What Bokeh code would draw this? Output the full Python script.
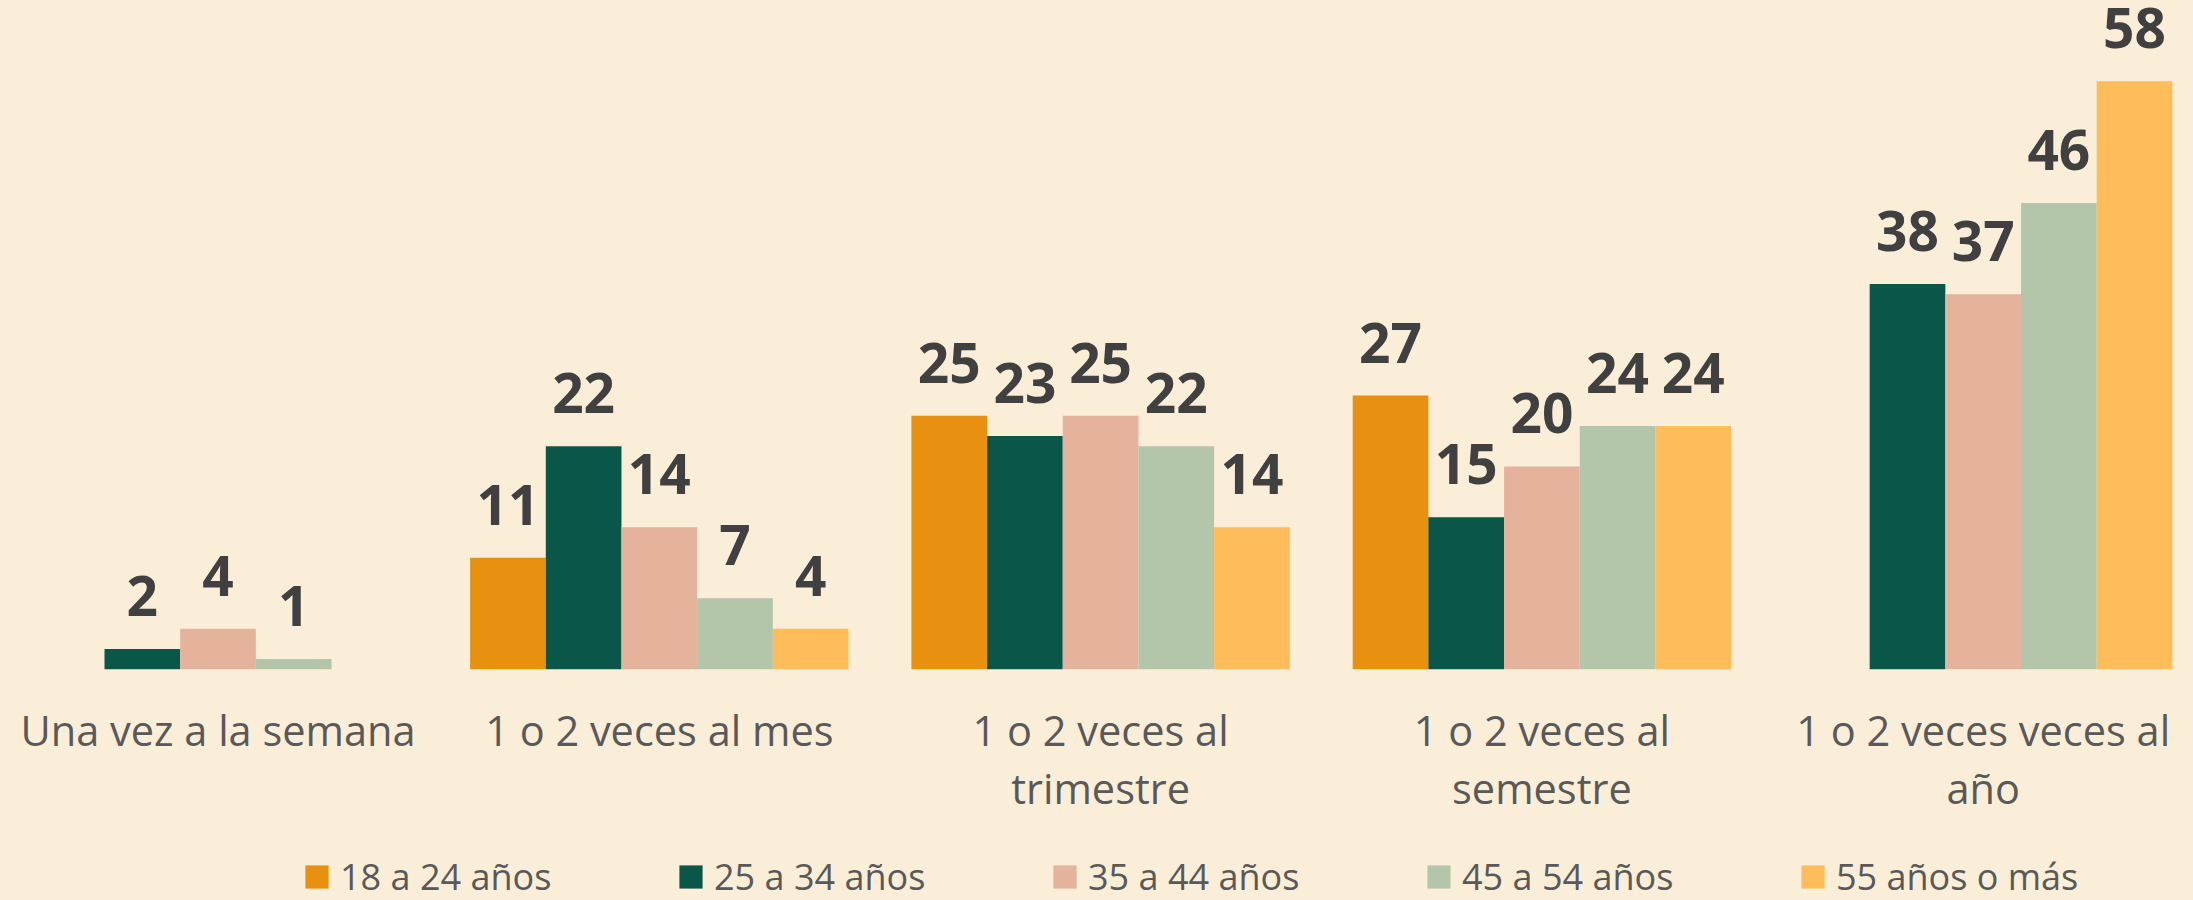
import numpy as np
from bokeh.plotting import figure
from bokeh.models import ColumnDataSource, Range1d, Legend, LegendItem
from bokeh.core.properties import value
from bokeh.embed import file_html
from bokeh.resources import INLINE

# ---- data ----
categories = ["Una vez a la semana", "1 o 2 veces al mes", "1 o 2 veces al\ntrimestre",
              "1 o 2 veces al\nsemestre", "1 o 2 veces veces al\naño"]
series = ["18 a 24 años", "25 a 34 años", "35 a 44 años", "45 a 54 años", "55 años o más"]
v_18_24 = [None, 11, 25, 27, None]
v_25_34 = [2, 22, 23, 15, 38]
v_35_44 = [4, 14, 25, 20, 37]
v_45_54 = [1, 7, 22, 24, 46]
v_55_mas = [None, 4, 14, 24, 58]
values = [v_18_24, v_25_34, v_35_44, v_45_54, v_55_mas]
colors = ["#E8900F", "#0A574A", "#E5B39C", "#B3C6AA", "#FEBC5A"]

BG = "#FBEED8"
BAR_W = 0.1715

p = figure(width=2193, height=900,
           x_range=Range1d(-0.4929, 4.4766), y_range=Range1d(-22.82, 65.97),
           output_backend="svg", toolbar_location=None,
           x_axis_location=None, y_axis_location=None,
           min_border_left=0, min_border_right=0, min_border_top=0, min_border_bottom=0)
p.background_fill_color = BG
p.border_fill_color = BG
p.outline_line_color = None
p.xgrid.grid_line_color = None
p.ygrid.grid_line_color = None

group_x = np.arange(len(categories))
items = []
for j, (name, vals, col) in enumerate(zip(series, values, colors)):
    xs = [gx + (j - 2) * BAR_W for gx, v in zip(group_x, vals) if v is not None]
    ys = [v for v in vals if v is not None]
    src = ColumnDataSource(dict(x=xs, top=ys, lab=[str(v) for v in ys]))
    r = p.vbar(x="x", top="top", width=BAR_W, bottom=0, source=src,
               fill_color=col, line_color=None)
    p.text(x="x", y="top", text="lab", source=src, text_align="center",
           text_baseline="alphabetic", y_offset=-53,
           text_font=value("Open Sans"), text_font_style="bold",
           text_font_size="55px", text_color="#404040")
    items.append(LegendItem(label=name, renderers=[r]))

# category labels
cat_src = ColumnDataSource(dict(x=list(group_x), y=[0] * len(categories), t=categories))
p.text(x="x", y="y", text="t", source=cat_src, text_align="center", text_baseline="top",
       y_offset=33, text_font=value("Open Sans"), text_font_size="41.5px",
       text_color="#595959", text_line_height=1.04)

legend = Legend(items=items, orientation="horizontal", location=(302, -1),
                glyph_width=29, glyph_height=29, label_standoff=9, label_width=336,
                spacing=0, padding=0, margin=0, border_line_color=None,
                background_fill_alpha=0, label_text_font="Open Sans",
                label_text_font_size="36px", label_text_color="#595959")
p.add_layout(legend, "center")

html = file_html(p, INLINE)
html = html.replace("<head>", "<head><style>html,body{background:%s}</style>" % BG, 1)
open("out.html", "w").write(html)
